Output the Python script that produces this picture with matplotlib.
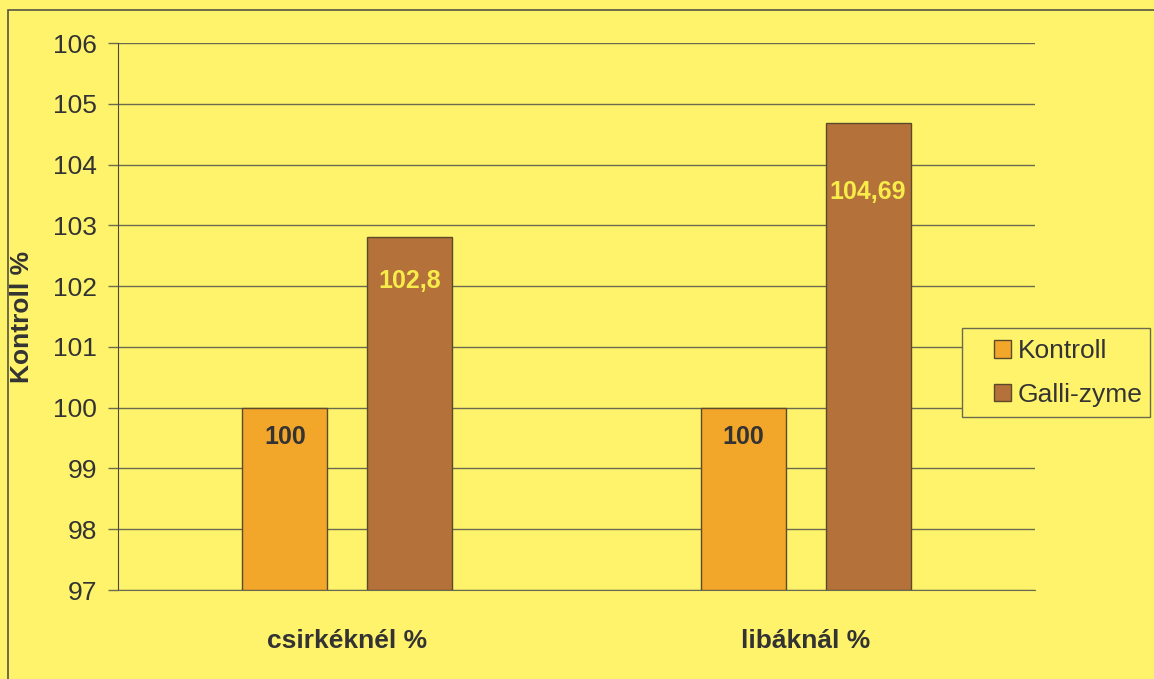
import numpy as np
import matplotlib.pyplot as plt
from matplotlib.patches import Rectangle

plt.rcParams['font.family'] = ['Liberation Sans', 'DejaVu Sans']

# data
categories = ['csirkéknél %', 'libáknál %']
kontroll = [100, 100]
galli = [102.8, 104.69]
kontroll_labels = ['100', '100']
galli_labels = ['102,8', '104,69']
yticks = [97, 98, 99, 100, 101, 102, 103, 104, 105, 106]

bg = '#fff36c'
c_kontroll = '#f2a72a'
c_galli = '#b4713a'
textc = '#333333'

fig = plt.figure(figsize=(11.54, 6.79), dpi=100, facecolor=bg)
ax = fig.add_axes([118/1154, 1 - 590/679, (1035-118)/1154, (590-43)/679])
ax.set_facecolor(bg)

x = np.arange(len(categories))
w = 0.185
off = 0.136
ax.bar(x - off, [k - 97 for k in kontroll], w, bottom=97, color=c_kontroll,
       edgecolor='#5a4a2a', linewidth=1, label='Kontroll', zorder=3)
ax.bar(x + off, [g - 97 for g in galli], w, bottom=97, color=c_galli,
       edgecolor='#5a4a2a', linewidth=1, label='Galli-zyme', zorder=3)

# label offsets below bar top, in points
k_off = [21, 21]
g_off = [31, 50]
for i in range(len(categories)):
    ax.annotate(kontroll_labels[i], (x[i] - off, kontroll[i]), xytext=(0, -k_off[i]),
                textcoords='offset points', ha='center', va='center',
                fontsize=18, fontweight='bold', color=textc, zorder=4)
    ax.annotate(galli_labels[i], (x[i] + off, galli[i]), xytext=(0, -g_off[i]),
                textcoords='offset points', ha='center', va='center',
                fontsize=18, fontweight='bold', color='#f7ec4a', zorder=4)

ax.set_xlim(-0.5, 1.5)
ax.set_ylim(97, 106)
ax.set_yticks(yticks)
ax.set_yticklabels([str(t) for t in yticks], fontsize=19, color=textc)
ax.tick_params(axis='y', length=7, width=1, color='#6a6a50', pad=8)
ax.set_xticks(x)
ax.set_xticklabels(categories, fontsize=19, fontweight='bold', color=textc)
ax.tick_params(axis='x', length=0, pad=28)
ax.grid(axis='y', color='#6a6a50', linewidth=1, zorder=0)
for s in ['top', 'right']:
    ax.spines[s].set_visible(False)
ax.spines['left'].set_color('#4a4a3a')
ax.spines['bottom'].set_color('#6a6a50')
ax.set_ylabel('Kontroll %', fontsize=19, fontweight='bold', color=textc)
ax.yaxis.set_label_coords(-84/917, 0.5)

# legend: entries placed by matplotlib, box drawn separately (wider left padding)
leg = fig.legend(loc='upper left', bbox_to_anchor=(994/1154, 1 - 339/679), fontsize=19,
                 frameon=False, handlelength=0.65, handleheight=0.65, handletextpad=0.25,
                 borderpad=0, labelspacing=0.75, borderaxespad=0)
for t in leg.get_texts():
    t.set_color(textc)
for h in leg.legend_handles:
    h.set_edgecolor('#5a4a2a')
fig.patches.append(Rectangle((962/1154, 1 - 417/679), 188/1154, 89/679, transform=fig.transFigure,
                             facecolor=bg, edgecolor='#6a6a50', linewidth=1, zorder=5))
leg.set_zorder(6)

# outer chart border
fig.patches.append(Rectangle((8/1154, -0.01), 1.2, 1 - 10/679 + 0.01, transform=fig.transFigure,
                             fill=False, edgecolor='#555544', linewidth=1.2))

fig.savefig('out.png', dpi=100, facecolor=bg)
